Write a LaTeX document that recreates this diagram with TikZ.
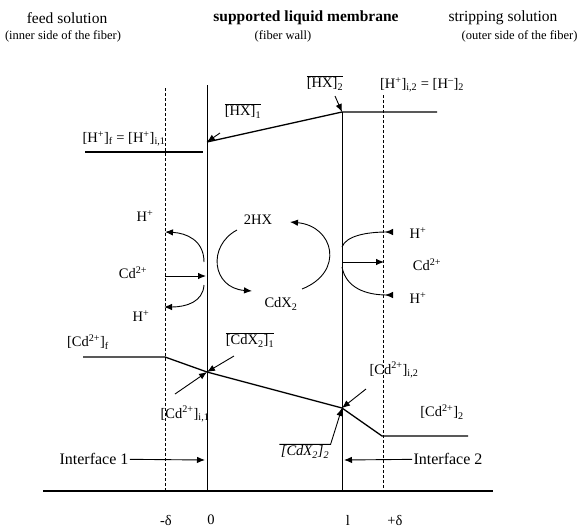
\documentclass[tikz,border=0pt]{standalone}
\usepackage{fontspec}
\setmainfont{Liberation Serif}
\usetikzlibrary{arrows.meta,positioning}
\newcommand{\hsup}[1]{\textsuperscript{#1}}
\newcommand{\hsub}[1]{\textsubscript{#1}}
\newcommand{\ovl}[1]{$\overline{\mbox{#1}}$}

\begin{document}
\begin{tikzpicture}[x=1pt, y=-1pt,
  font=\fontsize{14.5}{16}\selectfont, line width=0.9pt,
  lbl/.style={inner sep=1pt},
  head/.style={font=\fontsize{15.5}{17}\selectfont, inner sep=0pt},
  sub/.style={font=\fontsize{12.5}{14}\selectfont, inner sep=0pt},
  iface/.style={lbl, font=\fontsize{16}{18}\selectfont},
  wall/.style={line width=1pt},
  film/.style={dash pattern=on 3pt off 2pt, line width=0.6pt},
  prof/.style={line width=1.3pt},
  >={Latex[length=8pt,width=6.5pt]}]
\useasboundingbox (0,0) rectangle (579,528);
% headings
\node[head] (feed) at (67,18) {feed solution};
\node[sub] (feedin) at (63,36) {(inner side of the fiber)};
\node[head, font=\fontsize{15.5}{17}\selectfont\bfseries] (slm) at (306,18) {supported liquid membrane};
\node[sub] (wallin) at (283,36) {(fiber wall)};
\node[head] (strip) at (503,18) {stripping solution};
\node[sub, anchor=east] (stripin) at (578,36) {(outer side of the fiber)};
% film and wall lines
\coordinate (d1t) at (165,88);  \coordinate (d1b) at (165,491);
\coordinate (w1t) at (207,85);  \coordinate (w1b) at (207,491);
\coordinate (w2t) at (342,112); \coordinate (w2b) at (342,491);
\coordinate (d2t) at (383,95);  \coordinate (d2b) at (383,491);
\draw[film] (d1t) -- (d1b);
\draw[film] (d2t) -- (d2b);
\draw[wall] (w1t) -- (w1b);
\draw[wall] (w2t) -- (w2b);
\coordinate (axl) at (43,491); \coordinate (axr) at (493,491);
\draw[prof] (axl) -- (axr);
\node (mdelta) at (166,520) {-δ};
\node (zero) at (211,520) {0};
\node (ell) at (348,520) {l};
\node (pdelta) at (395,520) {+δ};
% extractant profile
\coordinate (h1) at (207,142);
\coordinate (h2) at (342,112);
\coordinate (h2r) at (437,112);
\coordinate (hfl) at (85,152); \coordinate (hfr) at (203,152);
\draw[prof] (h1) -- (h2) -- (h2r);
\draw[prof] (hfl) -- (hfr);
\node[lbl] (hx1) at (243,111) {\ovl{[HX]\hsub{1}}};
\node[lbl] (hx2) at (325,83) {\ovl{[HX]\hsub{2}}};
\node[lbl] (hs2) at (422,85) {[H\hsup{+}]\hsub{i,2} = [H\hsup{--}]\hsub{2}};
\node[lbl] (hf) at (124,139) {[H\hsup{+}]\hsub{f} = [H\hsup{+}]\hsub{i,1}};
\coordinate (hx1p) at (220,133);
\coordinate (hx2p) at (335,96);
\draw[->] (hx1p) -- (h1);
\draw[->] (hx2p) -- (h2);
% interface 1 reactions
\node[lbl] (hpa) at (145,216) {H\hsup{+}};
\node[lbl] (cda) at (133,273) {Cd\hsup{2+}};
\node[lbl] (hpb) at (141,316) {H\hsup{+}};
\coordinate (r1a) at (204,262); \coordinate (e1a) at (165,232);
\coordinate (r1b) at (165,276); \coordinate (e1b) at (206,276);
\coordinate (r1c) at (204,285); \coordinate (e1c) at (164,307);
\draw[->] (r1a) .. controls (204,240) and (186,233) .. (e1a);
\draw[->] (r1b) -- (e1b);
\draw[->] (r1c) .. controls (203,302) and (186,307) .. (e1c);
% membrane cycle
\node[lbl] (hx) at (258,220) {2HX};
\node[lbl] (cdx) at (281,304) {CdX\hsub{2}};
\coordinate (ca) at (237,230); \coordinate (cb) at (252,291);
\coordinate (cc) at (302,289); \coordinate (cd) at (290,222);
\draw[->] (ca) .. controls (207,246) and (212,288) .. (cb);
\draw[->] (cc) .. controls (345,272) and (334,226) .. (cd);
% interface 2 reactions
\node[lbl] (hpc) at (418,233) {H\hsup{+}};
\node[lbl] (cdb) at (427,265) {Cd\hsup{2+}};
\node[lbl] (hpd) at (418,298) {H\hsup{+}};
\coordinate (r2a) at (342,247); \coordinate (e2a) at (393,232);
\coordinate (r2b) at (342,262); \coordinate (e2b) at (384,262);
\coordinate (r2c) at (342,267); \coordinate (e2c) at (393,295);
\draw[-{Latex[length=8pt,width=6.5pt,reversed]}] (r2a) .. controls (346,236) and (366,232) .. (e2a);
\draw[->] (r2b) -- (e2b);
\draw[-{Latex[length=8pt,width=6.5pt,reversed]}] (r2c) .. controls (346,288) and (366,295) .. (e2c);
% metal profile
\coordinate (cfl) at (83,357); \coordinate (cfr) at (165,357);
\coordinate (c1) at (207,372);
\coordinate (c2) at (342,408);
\coordinate (csl) at (382,436); \coordinate (csr) at (468,436);
\draw[prof] (cfl) -- (cfr) -- (c1) -- (c2) -- (csl) -- (csr);
\node[lbl] (cdf) at (88,342) {[Cd\hsup{2+}]\hsub{f}};
\node[lbl] (cdx1) at (250,340) {\ovl{[CdX\hsub{2}]\hsub{1}}};
\node[lbl] (cdi1) at (185,414) {[Cd\hsup{2+}]\hsub{i,1}};
\node[lbl] (cdi2) at (394,370) {[Cd\hsup{2+}]\hsub{i,2}};
\node[lbl] (cds) at (442,412) {[Cd\hsup{2+}]\hsub{2}};
\node[lbl, font=\fontsize{14.5}{16}\selectfont\itshape] (cdx2) at (305,452) {[CdX\hsub{2}]\hsub{2}};
\coordinate (cdx1p) at (234,356);
\coordinate (cdi1p) at (175,394);
\coordinate (cdi2p) at (366,389);
\draw[->] (cdx1p) -- (c1);
\draw[->] (cdi1p) -- (c1);
\draw[->] (cdi2p) -- (c2);
\draw[->] (cdx2.north west) -- (cdx2.north east) -- (c2);
% interfaces
\node[iface] (if1) at (94,459) {Interface 1};
\node[iface] (if2) at (448,459) {Interface 2};
\coordinate (if1p) at (205,460);
\coordinate (if2p) at (344,460);
\draw[->] (if1) -- (if1p);
\draw[->] (if2) -- (if2p);
\end{tikzpicture}
\end{document}
